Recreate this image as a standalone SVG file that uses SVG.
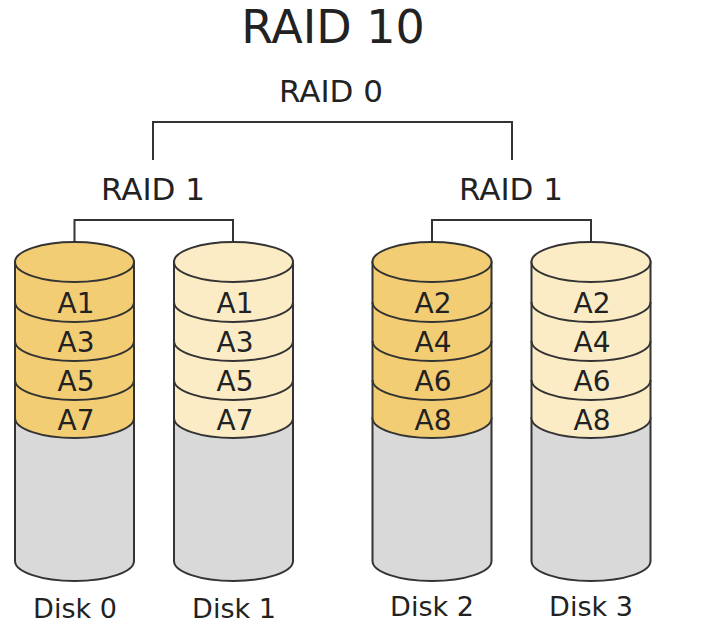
<svg xmlns="http://www.w3.org/2000/svg" width="702" height="627" viewBox="0 0 702 627">
<style>
text{font-family:"DejaVu Sans",sans-serif;fill:#222;text-anchor:middle}
.s{stroke:#333;stroke-width:2}
.d{fill:#f2cd73}.l{fill:#fbecc6}.g{fill:#d9d9d9}
.t{font-size:28px}
.k{font-size:27px}
</style>
<rect width="702" height="627" fill="#fff"/>
<text x="333" y="43" font-size="46">RAID 10</text>
<text x="331" y="102" font-size="31">RAID 0</text>
<text x="153" y="200" font-size="31">RAID 1</text>
<text x="511" y="200" font-size="31">RAID 1</text>
<g id="connectors" fill="none" class="s">
<path d="M153 160V122H512V160"/>
<path d="M74.5 262V220H233V242"/>
<path d="M432 262V220H591V242"/>
</g>
<defs>
<g id="cyl">
<path class="g s" d="M-59.5 418V561A59.5 20 0 0 0 59.5 561V418Z"/>
<path class="s" fill="inherit" d="M-59.5 262V418A59.5 20 0 0 0 59.5 418V262Z"/>
<path class="s" fill="none" d="M-59.5 302A59.5 20 0 0 0 59.5 302M-59.5 341A59.5 20 0 0 0 59.5 341M-59.5 380A59.5 20 0 0 0 59.5 380"/>
<ellipse class="s" fill="inherit" cx="0" cy="262" rx="59.5" ry="20"/>
</g>
</defs>
<g id="disk0"><use href="#cyl" x="74.5" class="d"/>
<text class="t" x="76" y="313">A1</text><text class="t" x="76" y="352">A3</text><text class="t" x="76" y="391">A5</text><text class="t" x="76" y="430">A7</text>
<text class="k" x="75" y="618">Disk 0</text></g>
<g id="disk1"><use href="#cyl" x="233.5" class="l"/>
<text class="t" x="235" y="313">A1</text><text class="t" x="235" y="352">A3</text><text class="t" x="235" y="391">A5</text><text class="t" x="235" y="430">A7</text>
<text class="k" x="234" y="618">Disk 1</text></g>
<g id="disk2"><use href="#cyl" x="432" class="d"/>
<text class="t" x="433" y="313">A2</text><text class="t" x="433" y="352">A4</text><text class="t" x="433" y="391">A6</text><text class="t" x="433" y="430">A8</text>
<text class="k" x="432" y="616">Disk 2</text></g>
<g id="disk3"><use href="#cyl" x="591" class="l"/>
<text class="t" x="592" y="313">A2</text><text class="t" x="592" y="352">A4</text><text class="t" x="592" y="391">A6</text><text class="t" x="592" y="430">A8</text>
<text class="k" x="591" y="616">Disk 3</text></g>
</svg>
